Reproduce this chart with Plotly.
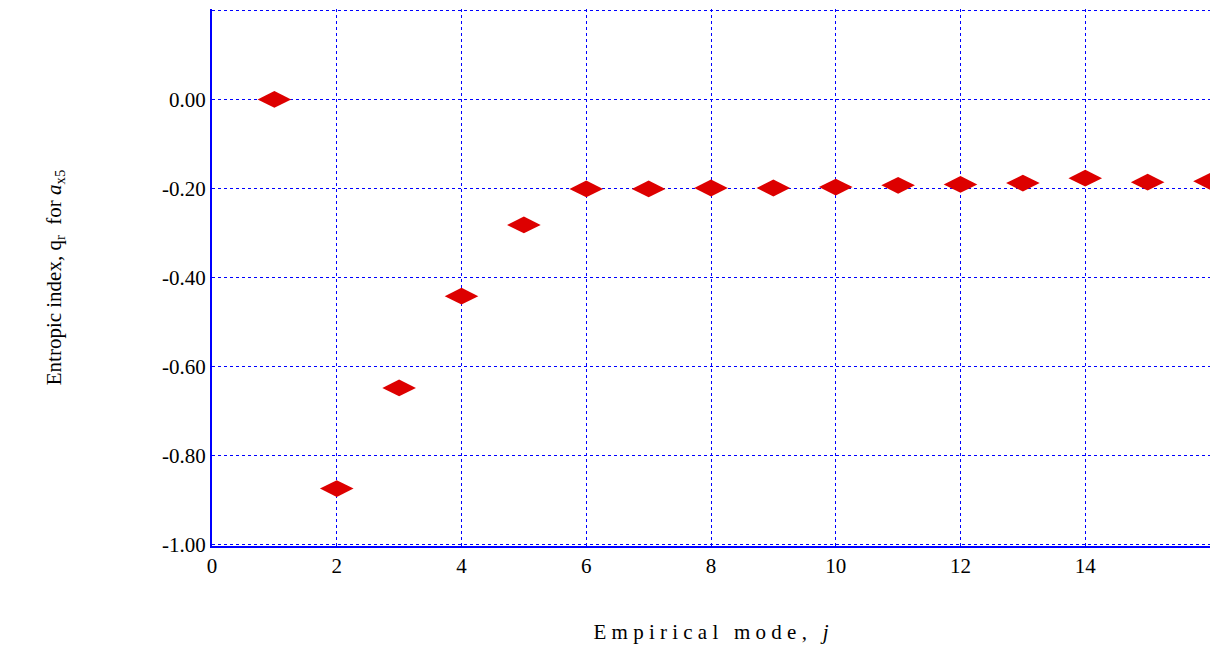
import plotly.graph_objects as go

modes = list(range(1, 17))
q_values = [0.00, -0.874, -0.648, -0.442, -0.282, -0.201, -0.201, -0.199,
            -0.199, -0.197, -0.193, -0.191, -0.188, -0.177, -0.186, -0.184]
y_ticks = [0.2, 0.0, -0.2, -0.4, -0.6, -0.8, -1.0]
y_labels = ["0.20", "0.00", "-0.20", "-0.40", "-0.60", "-0.80", "-1.00"]

fig = go.Figure()
fig.add_trace(go.Scatter(x=modes, y=q_values, mode="markers",
                         marker=dict(symbol="diamond-wide", size=24, color="#dd0000")))

fig.update_layout(
    width=1212, height=636, showlegend=False,
    plot_bgcolor="white", paper_bgcolor="white",
    margin=dict(l=204, r=10, t=1, b=87),
    font=dict(family="Liberation Serif", size=20, color="black"),
    xaxis=dict(range=[0, 16], tick0=0, dtick=2, showgrid=True, gridcolor="blue",
               griddash="dot", gridwidth=1, showline=True, linecolor="blue",
               linewidth=2, zeroline=False, ticks="", tickfont=dict(size=21),
               title=dict(text="E m p i r i c a l   m o d e ,   <i>j</i>",
                          font=dict(size=21), standoff=50)),
    yaxis=dict(range=[-1.003, 0.203], tickvals=y_ticks, ticktext=y_labels,
               showgrid=True, gridcolor="blue", griddash="dot", gridwidth=1,
               showline=True, linecolor="blue", linewidth=2, zeroline=False,
               ticks="", tickfont=dict(size=21),
               title=dict(text="Entropic index, q<sub>r</sub>  for <i>a</i><sub>x5</sub>",
                          font=dict(size=21), standoff=95)),
)
fig.write_html("out.html")
